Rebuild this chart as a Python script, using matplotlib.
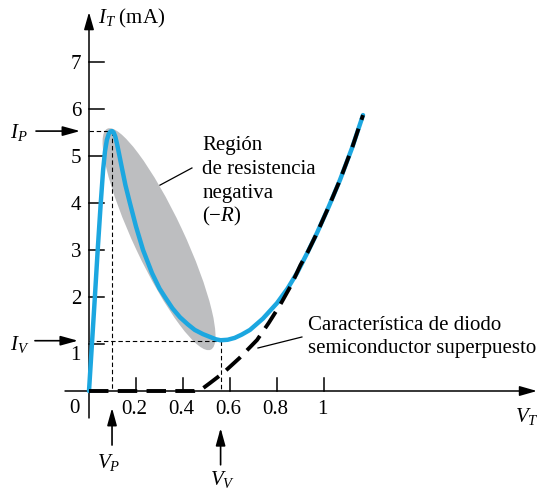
import matplotlib
matplotlib.use('Agg')
import matplotlib.pyplot as plt
from matplotlib.patches import Ellipse
from matplotlib.transforms import Affine2D

plt.rcParams['font.family'] = ['Liberation Serif', 'DejaVu Serif']
plt.rcParams['mathtext.fontset'] = 'custom'
plt.rcParams['mathtext.rm'] = 'Liberation Serif'
plt.rcParams['mathtext.it'] = 'Liberation Serif:italic'
plt.rcParams['mathtext.bf'] = 'Liberation Serif:bold'

# ---------------- data ----------------
x_ticks = [0.2, 0.4, 0.6, 0.8, 1.0]
x_tick_labels = ['0.2', '0.4', '0.6', '0.8', '1']
y_ticks = [1, 2, 3, 4, 5, 6, 7]
y_tick_labels = ['1', '2', '3', '4', '5', '6', '7']

# tunnel diode characteristic (V, mA)
tunnel_v = [0.0, 0.0125, 0.025, 0.037, 0.05, 0.06, 0.068, 0.076, 0.084, 0.091,
            0.098, 0.105, 0.112, 0.12, 0.129, 0.139, 0.155, 0.174, 0.2, 0.23,
            0.268, 0.3, 0.323, 0.355, 0.387, 0.42, 0.45, 0.485, 0.515, 0.54,
            0.56, 0.59, 0.62, 0.65, 0.685, 0.74, 0.8, 0.845, 0.885, 0.93,
            0.97, 1.02, 1.068, 1.12, 1.166]
tunnel_i = [0.0, 1.0, 2.0, 3.0, 4.0, 4.7, 5.1, 5.34, 5.47, 5.52,
            5.53, 5.5, 5.41, 5.24, 5.02, 4.77, 4.38, 4.0, 3.5, 3.0,
            2.51, 2.18, 2.0, 1.76, 1.57, 1.42, 1.30, 1.21, 1.15, 1.10,
            1.08, 1.09, 1.13, 1.2, 1.30, 1.54, 1.87, 2.18, 2.51, 2.95,
            3.36, 3.92, 4.49, 5.18, 5.87]

# superimposed semiconductor diode characteristic
diode_v = [0.0, 0.45, 0.48, 0.515, 0.57, 0.64, 0.715, 0.765, 0.813, 0.86,
           0.9, 0.93, 0.97, 1.02, 1.068, 1.12, 1.166]
diode_i = [0.0, 0.0, 0.04, 0.17, 0.38, 0.7, 1.085, 1.45, 1.83, 2.25,
           2.68, 2.95, 3.36, 3.92, 4.49, 5.18, 5.87]

V_P, I_P = 0.098, 5.53
V_V, I_V = 0.56, 1.07

region_lines = ['Región', 'de resistencia', 'negativa', r'$(-R)$']
diode_lines = ['Característica de diodo', 'semiconductor superpuesto']

# ---------------- figure ----------------
W, H = 542, 493
fig = plt.figure(figsize=(W / 100, H / 100), dpi=100)
ax = fig.add_axes([0, 0, 1, 1])
ax.set_xlim(-89 / 235, (W - 89) / 235)
ax.set_ylim((391 - H) / 47, 391 / 47)
ax.axis('off')
fig.canvas.draw()

p0 = ax.transData.transform((0, 0))
sx = ax.transData.transform((1, 0))[0] - p0[0]
sy = ax.transData.transform((0, 1))[1] - p0[1]

BLUE = '#1CA7E0'
GRAY = '#BDBEC0'
FS = 15

# negative-resistance region ellipse (size in pixels, placed in data coords)
ell = Ellipse((0, 0), width=2 * 122, height=2 * 25, angle=-64.9,
              facecolor=GRAY, edgecolor='none', zorder=1)
ell.set_transform(Affine2D().scale(1 / sx, 1 / sy).translate(0.298, 3.23) + ax.transData)
ax.add_patch(ell)

# axes with arrows
arrow_kw = dict(arrowstyle='-|>,head_length=10.5,head_width=3.0', color='black',
                lw=1.1, shrinkA=0, shrinkB=0, mutation_scale=1)
ax.annotate('', xy=(0, 8.06), xytext=(0, -0.574), arrowprops=arrow_kw, zorder=3)
ax.annotate('', xy=(1.906, 0), xytext=(-0.102, 0), arrowprops=arrow_kw, zorder=3)

# ticks
for t in y_ticks:
    ax.plot([0, 15 / sx], [t, t], color='black', lw=1.1, zorder=3)
for t in x_ticks:
    ax.plot([t, t], [0, 13 / sy], color='black', lw=1.1, zorder=3)

# tick labels
for t, lab in zip(y_ticks, y_tick_labels):
    off = -0.34 if t == 1 else -0.15
    ax.text(-0.034, t + off, lab, ha='right', va='baseline', fontsize=FS)
for t, lab in zip(x_ticks, x_tick_labels):
    ax.text(t - 0.006, -0.49, lab, ha='center', va='baseline', fontsize=FS)
ax.text(-0.064, -0.47, '0', ha='center', va='baseline', fontsize=FS)

# guide dashed lines
gkw = dict(color='black', lw=0.8, dashes=(4, 2.5), zorder=2)
ax.plot([0, V_P], [I_P, I_P], **gkw)
ax.plot([V_P, V_P], [I_P, 0], **gkw)
ax.plot([0, V_V], [I_V, I_V], **gkw)
ax.plot([V_V, V_V], [I_V, 0], **gkw)

# curves
ax.plot(tunnel_v, tunnel_i, color=BLUE, lw=3.2, solid_joinstyle='round',
        solid_capstyle='round', zorder=4)
ax.plot(diode_v, diode_i, color='black', lw=2.8, dashes=(5, 2.4),
        dash_capstyle='butt', zorder=5)

# marker arrows
small_arrow = dict(arrowstyle='-|>,head_length=10.5,head_width=2.9', color='black',
                   lw=1.2, shrinkA=0, shrinkB=0, mutation_scale=1)
ax.annotate('', xy=(-0.038, I_P), xytext=(-0.2255, I_P), arrowprops=small_arrow)
ax.annotate('', xy=(-0.047, I_V), xytext=(-0.23, I_V), arrowprops=small_arrow)
ax.annotate('', xy=(V_P, -0.36), xytext=(V_P, -1.15), arrowprops=small_arrow)
ax.annotate('', xy=(V_V, -0.79), xytext=(V_V, -1.57), arrowprops=small_arrow)

# labels
ax.text(0.038, 7.81, r'$I_T$ (mA)', ha='left', va='baseline', fontsize=FS)
ax.text(1.812, -0.66, r'$V_T$', ha='left', va='baseline', fontsize=FS)
ax.text(-0.336, 5.38, r'$I_P$', ha='left', va='baseline', fontsize=FS)
ax.text(-0.336, 0.87, r'$I_V$', ha='left', va='baseline', fontsize=FS)
ax.text(0.034, -1.64, r'$V_P$', ha='left', va='baseline', fontsize=FS)
ax.text(0.515, -1.99, r'$V_V$', ha='left', va='baseline', fontsize=FS)

for k, line in enumerate(region_lines):
    ax.text(0.481, 5.13 - k * 24 / sy, line, ha='left', va='baseline', fontsize=FS)
for k, line in enumerate(diode_lines):
    ax.text(0.932, 1.30 - k * 23 / sy, line, ha='left', va='baseline', fontsize=FS)

# leader lines
ax.plot([0.302, 0.438], [4.38, 4.745], color='black', lw=0.9, zorder=3)
ax.plot([0.719, 0.906], [0.915, 1.149], color='black', lw=0.9, zorder=3)

fig.savefig('out.png', dpi=100, facecolor='white')
